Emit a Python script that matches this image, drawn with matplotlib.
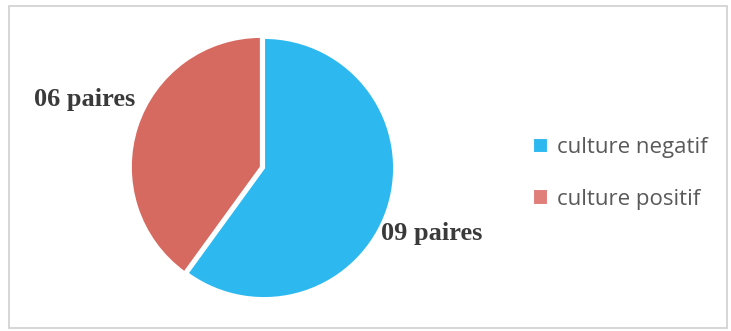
import matplotlib.pyplot as plt
from matplotlib.patches import Rectangle

labels = ["culture negatif", "culture positif"]
counts = [9, 6]
count_labels = ["09 paires", "06 paires"]
colors = ["#2db9ef", "#d76a60"]

W, H = 731, 331
fig = plt.figure(figsize=(W / 100, H / 100), dpi=100)
fig.patch.set_facecolor("white")

# cadre gris autour du graphique
fig.patches.append(
    Rectangle((9 / W, 3 / H), 718 / W, 322 / H, transform=fig.transFigure,
              fill=False, edgecolor="#cfcfcf", linewidth=1.2)
)

# axe carré centré sur le camembert
cx, cy, r = 264, 331 - 168, 134
ax = fig.add_axes([(cx - r) / W, (cy - r) / H, 2 * r / W, 2 * r / H])
wedges, _ = ax.pie(
    counts,
    colors=colors,
    startangle=90,
    counterclock=False,
    explode=[0, 0.025],
    wedgeprops=dict(edgecolor="white", linewidth=1.5),
)
ax.set_xlim(-1.03, 1.03)
ax.set_ylim(-1.03, 1.03)
ax.set_aspect("equal")
ax.axis("off")

txt = dict(family="Liberation Serif", fontweight="bold", fontsize=19,
           color="#3a3a3a", ha="center", va="center")
ax.text(1.29, -0.5, count_labels[0], **txt)
ax.text(-1.38, 0.53, count_labels[1], **txt)

leg = fig.legend(
    wedges, labels,
    loc="upper left", bbox_to_anchor=(533 / W, 1 - 137 / H),
    frameon=False, borderpad=0, borderaxespad=0,
    handlelength=0.68, handleheight=0.68, handletextpad=0.4,
    labelspacing=1.38, prop=dict(family="Open Sans", size=16),
    labelcolor="#595959",
)
leg.legend_handles[1].set_facecolor("#e07f7a")

fig.savefig("out.png", dpi=100)
